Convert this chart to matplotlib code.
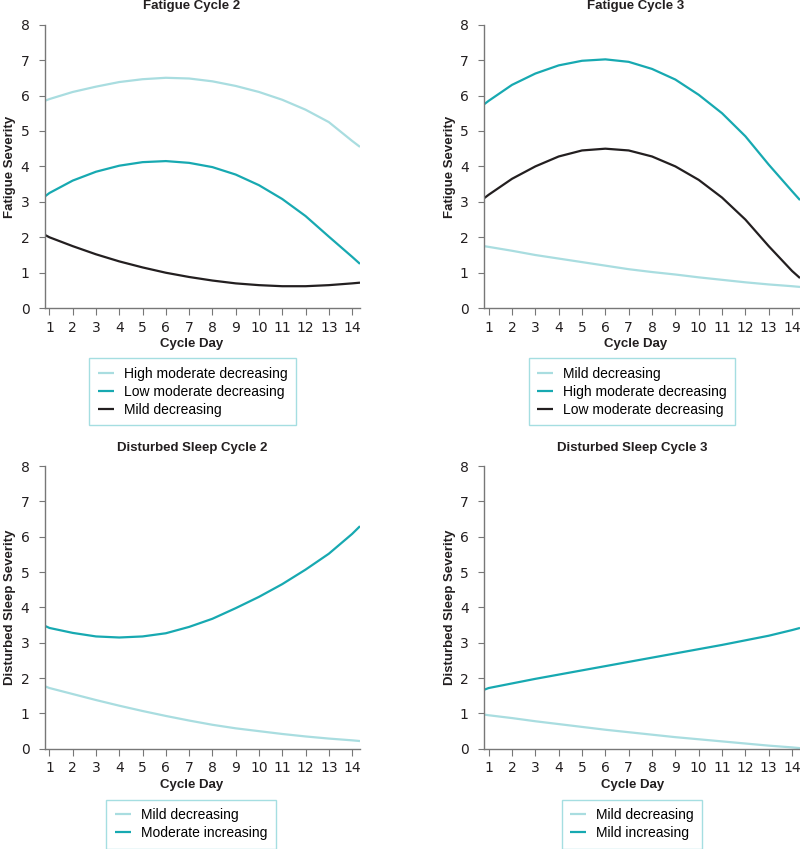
import matplotlib
matplotlib.use("Agg")
import matplotlib.pyplot as plt

# x positions: axis edges plus cycle days 1..14
days = [0.8, 1, 2, 3, 4, 5, 6, 7, 8, 9, 10, 11, 12, 13, 14, 14.34]

fat2_high_mod = [5.85, 5.9, 6.1, 6.25, 6.38, 6.46, 6.5, 6.48, 6.4, 6.27, 6.1, 5.88, 5.6, 5.25, 4.72, 4.55]
fat2_low_mod = [3.15, 3.25, 3.6, 3.85, 4.02, 4.12, 4.15, 4.1, 3.98, 3.77, 3.47, 3.08, 2.6, 2.02, 1.45, 1.25]
fat2_mild = [2.07, 2.0, 1.75, 1.52, 1.32, 1.15, 1.0, 0.88, 0.78, 0.7, 0.65, 0.62, 0.62, 0.65, 0.7, 0.72]

fat3_mild = [1.75, 1.73, 1.62, 1.5, 1.4, 1.3, 1.2, 1.1, 1.02, 0.95, 0.87, 0.8, 0.73, 0.67, 0.62, 0.6]
fat3_high_mod = [5.75, 5.85, 6.3, 6.62, 6.85, 6.98, 7.02, 6.95, 6.75, 6.45, 6.02, 5.5, 4.85, 4.05, 3.3, 3.05]
fat3_low_mod = [3.1, 3.2, 3.65, 4.0, 4.28, 4.45, 4.5, 4.45, 4.28, 4.0, 3.62, 3.12, 2.5, 1.75, 1.05, 0.85]

sl2_mild_dec = [1.77, 1.72, 1.55, 1.38, 1.22, 1.07, 0.93, 0.8, 0.68, 0.58, 0.5, 0.42, 0.35, 0.29, 0.24, 0.22]
sl2_mod_inc = [3.48, 3.42, 3.28, 3.18, 3.15, 3.18, 3.27, 3.45, 3.68, 3.98, 4.3, 4.66, 5.07, 5.52, 6.08, 6.3]

sl3_mild_dec = [0.97, 0.95, 0.87, 0.78, 0.7, 0.62, 0.54, 0.47, 0.4, 0.33, 0.27, 0.21, 0.15, 0.09, 0.04, 0.02]
sl3_mild_inc = [1.67, 1.72, 1.85, 1.98, 2.1, 2.22, 2.34, 2.46, 2.58, 2.7, 2.82, 2.94, 3.07, 3.2, 3.36, 3.42]

LIGHT = "#a9dde0"
TEAL = "#17a9b1"
DARK = "#231f20"

plt.rcParams["font.family"] = ["Liberation Sans", "DejaVu Sans"]

fig = plt.figure(figsize=(8, 8.49), dpi=100)

# rect, title, ylabel, series, legend anchor, centre of title/xlabel in axes coords
panels = [
    ([0.056, 0.637, 0.394, 0.334], "Fatigue Cycle 2", "Fatigue Severity",
     [(fat2_high_mod, LIGHT, "High moderate decreasing"),
      (fat2_low_mod, TEAL, "Low moderate decreasing"),
      (fat2_mild, DARK, "Mild decreasing")], (0.241, 0.578), 0.467),
    ([0.605, 0.637, 0.395, 0.334], "Fatigue Cycle 3", "Fatigue Severity",
     [(fat3_mild, LIGHT, "Mild decreasing"),
      (fat3_high_mod, TEAL, "High moderate decreasing"),
      (fat3_low_mod, DARK, "Low moderate decreasing")], (0.79, 0.578), 0.48),
    ([0.056, 0.118, 0.394, 0.333], "Disturbed Sleep Cycle 2", "Disturbed Sleep Severity",
     [(sl2_mild_dec, LIGHT, "Mild decreasing"),
      (sl2_mod_inc, TEAL, "Moderate increasing")], (0.239, 0.058), 0.467),
    ([0.605, 0.118, 0.395, 0.333], "Disturbed Sleep Cycle 3", "Disturbed Sleep Severity",
     [(sl3_mild_dec, LIGHT, "Mild decreasing"),
      (sl3_mild_inc, TEAL, "Mild increasing")], (0.79, 0.058), 0.47),
]

for rect, title, ylabel, series, leg_pos, xc in panels:
    ax = fig.add_axes(rect)
    for vals, color, label in series:
        ax.plot(days, vals, color=color, lw=1.6, label=label, solid_capstyle="butt")
    ax.set_xlim(0.8, 14.34)
    ax.set_ylim(0, 8)
    ax.set_xticks(range(1, 15))
    ax.set_yticks(range(0, 9))
    ax.spines["top"].set_visible(False)
    ax.spines["right"].set_visible(False)
    for s in ("left", "bottom"):
        ax.spines[s].set_color("#777777")
        ax.spines[s].set_linewidth(1.0)
    ax.tick_params(axis="both", color="#777777", labelsize=10, labelcolor="#231f20")
    ax.tick_params(axis="x", length=5, pad=4)
    ax.tick_params(axis="y", length=4, pad=7)
    for lab in ax.get_xticklabels() + ax.get_yticklabels():
        lab.set_family("DejaVu Sans")
    ax.set_title(title, fontsize=9.5, fontweight="bold", pad=11, color="#231f20", x=xc)
    ax.set_ylabel(ylabel, fontsize=9.5, fontweight="bold", labelpad=3, color="#231f20")
    ax.set_xlabel("Cycle Day", fontsize=9.5, fontweight="bold", color="#231f20")
    ax.xaxis.set_label_coords(xc, -0.105)
    leg = ax.legend(loc="upper center", bbox_to_anchor=leg_pos, bbox_transform=fig.transFigure,
                    fancybox=False, edgecolor="#8fd6da", fontsize=10, handlelength=1.15,
                    borderpad=0.6, labelspacing=0.3, handletextpad=0.75, borderaxespad=0)
    leg.get_frame().set_linewidth(1.0)

fig.savefig("out.png", dpi=100)
